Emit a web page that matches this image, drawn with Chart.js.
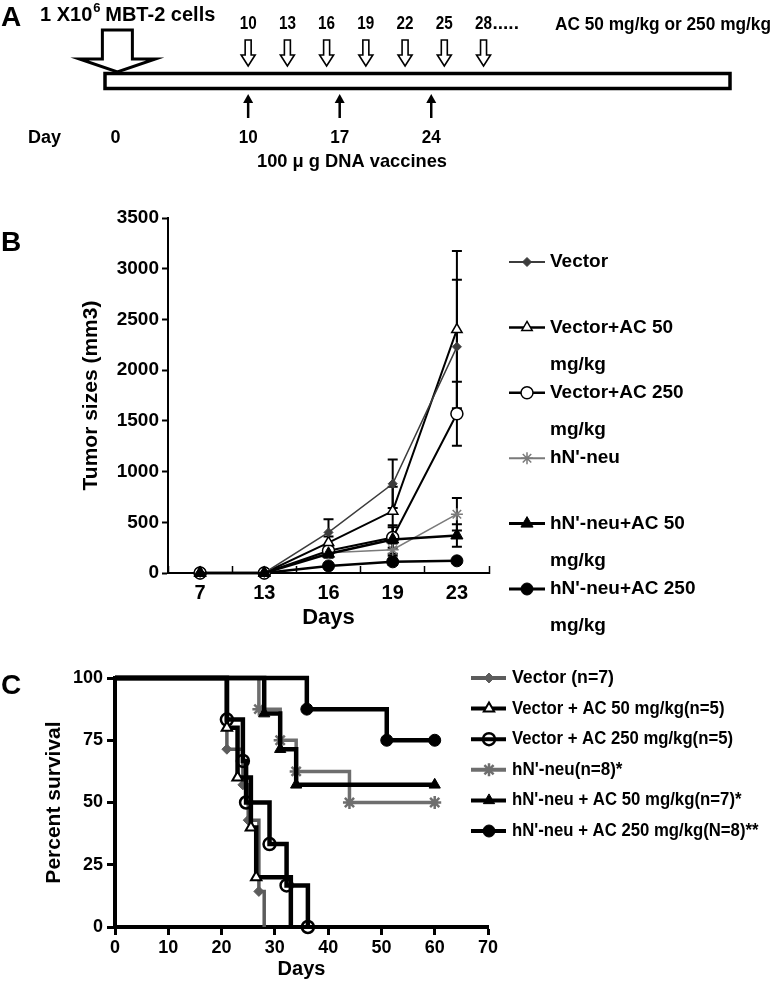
<!DOCTYPE html>
<html>
<head>
<meta charset="utf-8">
<script src="https://cdn.jsdelivr.net/npm/chart.js@4.4.1/dist/chart.umd.min.js"></script>
<style>
  html, body { margin: 0; padding: 0; background: #fff; }
  #wrap { position: relative; width: 774px; height: 981px; }
  canvas { position: absolute; left: 0; }
</style>
</head>
<body>
<div id="wrap">
  <canvas id="chartA" width="774" height="180" style="top:0"></canvas>
  <canvas id="chartB" width="774" height="465" style="top:180px"></canvas>
  <canvas id="chartC" width="774" height="336" style="top:645px"></canvas>
</div>
<script>
var FONT = '"Liberation Sans", Arial, sans-serif';

// ---- A: treatment schedule (days)
var tumorDay = 0;
var acDays = [10, 13, 16, 19, 22, 25, 28];
var acDayLabels = ['10', '13', '16', '19', '22', '25', '28.....'];
var vaccineDays = [10, 17, 24];

// ---- B: tumor sizes (mm3), mean and error
var tumorDays = ['7', '13', '16', '19', '23'];
var tumorNames = ['Vector', 'Vector+AC 50 mg/kg', 'Vector+AC 250 mg/kg',
                  "hN'-neu", "hN'-neu+AC 50 mg/kg", "hN'-neu+AC 250 mg/kg"];
var sizeVector       = [0, 0, 400, 880, 2230];
var sizeVectorAC50   = [0, 0, 300, 610, 2400];
var sizeVectorAC250  = [0, 0, 220, 350, 1570];
var sizeNeu          = [0, 0, 200, 230, 580];
var sizeNeuAC50      = [0, 0, 190, 330, 370];
var sizeNeuAC250     = [0, 0, 70, 110, 120];
var errVector        = [0, 0, 130, 240, 660];
var errVectorAC50    = [0, 0, 60, 240, 775];
var errVectorAC250   = [0, 0, 50, 100, 315];
var errNeu           = [0, 0, 40, 60, 160];
var errNeuAC50       = [0, 0, 40, 140, 110];
var errNeuAC250      = [0, 0, 20, 30, 20];

// ---- C: survival (Kaplan-Meier steps)
var survNames = ['Vector (n=7)', 'Vector + AC 50 mg/kg(n=5)', 'Vector + AC 250 mg/kg(n=5)',
                 "hN'-neu(n=8)*", "hN'-neu + AC 50 mg/kg(n=7)*", "hN'-neu + AC 250 mg/kg(N=8)**"];
var survVectorDays      = [0, 21, 24, 25, 27, 28];
var survVectorPct       = [100, 71.4, 57.1, 42.9, 14.3, 0];
var survVectorAC50Days  = [0, 21, 23, 25.5, 26.5, 33];
var survVectorAC50Pct   = [100, 80, 60, 40, 20, 0];
var survVectorAC250Days = [0, 21, 24, 24.6, 29, 32.2, 36.2];
var survVectorAC250Pct  = [100, 83.3, 66.7, 50, 33.3, 16.7, 0];
var survNeuDays         = [0, 27, 31, 34, 44, 60];
var survNeuPct          = [100, 87.5, 75, 62.5, 50, 50];
var survNeuAC50Days     = [0, 28, 31, 34, 60];
var survNeuAC50Pct      = [100, 85.7, 71.4, 57.1, 57.1];
var survNeuAC250Days    = [0, 36, 51, 60];
var survNeuAC250Pct     = [100, 87.5, 75, 75];

function pts(xs, ys) {
  return xs.map(function (d, i) { return { x: d, y: ys[i] }; });
}

function txt(ctx, s, x, y, size, weight, align, maxW) {
  ctx.font = weight + ' ' + size + 'px ' + FONT;
  ctx.textAlign = align || 'left';
  ctx.textBaseline = 'middle';
  ctx.fillStyle = '#000';
  if (maxW) ctx.fillText(s, x, y, maxW); else ctx.fillText(s, x, y);
}

function mark(ctx, style, x, y) {
  ctx.save();
  ctx.fillStyle = style.fill;
  ctx.strokeStyle = style.color;
  ctx.lineWidth = style.bw;
  Chart.helpers.drawPoint(ctx, { pointStyle: style.point, radius: style.radius, borderWidth: style.bw, rotation: 0 }, x, y);
  ctx.restore();
}

function plain(v) { return String(v); }

var baseOpts = {
  responsive: false,
  animation: false,
  events: [],
  plugins: { legend: { display: false }, tooltip: { enabled: false } }
};

// ================= A =================
var schedule = {
  id: 'schedule',
  afterDraw: function (chart) {
    var ctx = chart.ctx, a = chart.chartArea, x = chart.scales.x;
    ctx.save();
    txt(ctx, 'A', 1, 18, 28, 'bold');

    // timeline bar
    ctx.strokeStyle = '#000';
    ctx.lineWidth = 3.5;
    ctx.strokeRect(a.left + 2, 73.5, a.right - a.left - 4, 15);

    // tumor inoculation arrow
    var cx = x.getPixelForValue(tumorDay);
    ctx.beginPath();
    ctx.moveTo(cx - 15, 30); ctx.lineTo(cx + 15, 30); ctx.lineTo(cx + 15, 59);
    ctx.lineTo(cx + 38, 59); ctx.lineTo(cx, 72); ctx.lineTo(cx - 38, 59);
    ctx.lineTo(cx - 15, 59); ctx.closePath();
    ctx.fillStyle = '#fff'; ctx.fill();
    ctx.lineWidth = 3; ctx.lineJoin = 'miter'; ctx.stroke();
    txt(ctx, '1 X10', 40, 15, 20, 'bold');
    ctx.font = 'bold 20px ' + FONT;
    var w1 = ctx.measureText('1 X10').width;
    txt(ctx, '6', 40 + w1 + 1, 8, 13, 'bold');
    txt(ctx, 'MBT-2 cells', 40 + w1 + 13, 15, 20, 'bold');

    // AC doses
    acDays.forEach(function (d, i) {
      var px = x.getPixelForValue(d);
      ctx.beginPath();
      ctx.moveTo(px - 3, 40); ctx.lineTo(px + 3, 40); ctx.lineTo(px + 3, 55);
      ctx.lineTo(px + 7, 55); ctx.lineTo(px, 66); ctx.lineTo(px - 7, 55);
      ctx.lineTo(px - 3, 55); ctx.closePath();
      ctx.lineWidth = 1.6; ctx.stroke();
      var num = acDayLabels[i].match(/^\d+/)[0];
      var rest = acDayLabels[i].slice(num.length);
      txt(ctx, num, px, 24, 19, 'bold', 'center', 17);
      if (rest) txt(ctx, rest, px + 9, 24, 19, 'bold', 'left', 30);
    });
    txt(ctx, 'AC 50 mg/kg or 250 mg/kg', 771, 25, 19, 'bold', 'right', 216);

    // DNA vaccines
    vaccineDays.forEach(function (d) {
      var px = x.getPixelForValue(d);
      ctx.beginPath(); ctx.moveTo(px, 118); ctx.lineTo(px, 100);
      ctx.lineWidth = 2.5; ctx.stroke();
      ctx.beginPath(); ctx.moveTo(px - 5, 103); ctx.lineTo(px + 5, 103); ctx.lineTo(px, 94);
      ctx.closePath(); ctx.fillStyle = '#000'; ctx.fill();
      txt(ctx, String(d), px, 138, 18, 'bold', 'center', 19);
    });
    txt(ctx, 'Day', 28, 138, 18, 'bold', 'left', 34);
    txt(ctx, String(tumorDay), cx - 2, 138, 18, 'bold', 'center');
    txt(ctx, '100 \u03bc g DNA vaccines', 257, 162, 19, 'bold', 'left', 190);
    ctx.restore();
  }
};

new Chart(document.getElementById('chartA'), {
  type: 'scatter',
  data: { datasets: [] },
  options: Object.assign({}, baseOpts, {
    layout: { padding: { left: 103, right: 42, top: 0, bottom: 0 } },
    scales: {
      x: { type: 'linear', min: -1.1, max: 47, display: false },
      y: { min: 0, max: 1, display: false }
    }
  }),
  plugins: [schedule]
});

// ================= B =================
var stylesB = [
  { color: '#3c3c3c', width: 1.5, point: 'rectRot', radius: 4.5, fill: '#3c3c3c', bw: 1 },
  { color: '#000', width: 2, point: 'triangle', radius: 6, fill: '#fff', bw: 1.5 },
  { color: '#000', width: 2, point: 'circle', radius: 6, fill: '#fff', bw: 1.5 },
  { color: '#7a7a7a', width: 1.5, point: 'star', radius: 6, fill: '#7a7a7a', bw: 1.5 },
  { color: '#000', width: 2.5, point: 'triangle', radius: 7, fill: '#000', bw: 1 },
  { color: '#000', width: 2.5, point: 'circle', radius: 6, fill: '#000', bw: 1 }
];
var sizesB = [sizeVector, sizeVectorAC50, sizeVectorAC250, sizeNeu, sizeNeuAC50, sizeNeuAC250];
var errsB = [errVector, errVectorAC50, errVectorAC250, errNeu, errNeuAC50, errNeuAC250];

var errorBars = {
  id: 'errorBars',
  beforeDatasetsDraw: function (chart) {
    var ctx = chart.ctx, x = chart.scales.x, y = chart.scales.y;
    ctx.save();
    ctx.strokeStyle = '#000';
    ctx.lineWidth = 2;
    errsB.forEach(function (errs, i) {
      errs.forEach(function (e, j) {
        if (!e) return;
        var px = x.getPixelForValue(j);
        var t = y.getPixelForValue(sizesB[i][j] + e);
        var b = y.getPixelForValue(Math.max(0, sizesB[i][j] - e));
        ctx.beginPath();
        ctx.moveTo(px, t); ctx.lineTo(px, b);
        ctx.moveTo(px - 5, t); ctx.lineTo(px + 5, t);
        ctx.moveTo(px - 5, b); ctx.lineTo(px + 5, b);
        ctx.stroke();
      });
    });
    ctx.restore();
  }
};

var legendB = {
  id: 'legendB',
  afterDraw: function (chart) {
    var ctx = chart.ctx;
    ctx.save();
    txt(ctx, 'B', 1, 63, 28, 'bold');
    tumorNames.forEach(function (name, i) {
      var s = stylesB[i], y = 82 + i * 65.4;
      ctx.beginPath(); ctx.moveTo(509, y); ctx.lineTo(545, y);
      ctx.strokeStyle = s.color; ctx.lineWidth = s.width + 0.5; ctx.stroke();
      mark(ctx, s, 527, y);
      var parts = name.split(' mg/kg');
      txt(ctx, parts[0], 550, y, 19, 'bold');
      if (parts.length > 1) txt(ctx, 'mg/kg', 550, y + 37, 19, 'bold');
    });
    ctx.restore();
  }
};

new Chart(document.getElementById('chartB'), {
  type: 'line',
  data: {
    labels: tumorDays,
    datasets: tumorNames.map(function (name, i) {
      var s = stylesB[i];
      return {
        label: name, data: sizesB[i], order: i === 4 ? 0 : 1, clip: false,
        borderColor: s.color, borderWidth: s.width, tension: 0,
        pointStyle: s.point, pointRadius: s.radius, pointBackgroundColor: s.fill,
        pointBorderColor: s.color, pointBorderWidth: s.bw
      };
    })
  },
  options: Object.assign({}, baseOpts, {
    layout: { padding: { left: 66, right: 285, top: 38, bottom: 0 } },
    scales: {
      x: {
        type: 'category', offset: true,
        grid: { offset: true, drawOnChartArea: false, color: '#000', tickLength: -7, tickWidth: 1.5 },
        border: { color: '#000', width: 2 },
        ticks: { color: '#000', padding: 15, font: { family: FONT, size: 20, weight: 'bold' } },
        title: { display: true, text: 'Days', color: '#000', padding: { top: 0, bottom: 14 },
                 font: { family: FONT, size: 22, weight: 'bold' } },
        afterFit: function (s) { s.height = 72; }
      },
      y: {
        min: 0, max: 3500,
        grid: { drawOnChartArea: false, color: '#000', tickLength: 6, tickWidth: 2 },
        border: { color: '#000', width: 2 },
        ticks: { stepSize: 500, callback: plain, color: '#000', padding: 3,
                 font: { family: FONT, size: 19, weight: 'bold' } },
        title: { display: true, text: 'Tumor sizes (mm3)', color: '#000', padding: { top: 13, bottom: 0 },
                 font: { family: FONT, size: 21, weight: 'bold' } },
        afterFit: function (s) { s.width = 102; }
      }
    }
  }),
  plugins: [errorBars, legendB]
});

// ================= C =================
var stylesC = [
  { color: '#5c5c5c', width: 3.5, point: 'rectRot', radius: 5, fill: '#5c5c5c', bw: 1, noEnd: true },
  { color: '#000', width: 4.5, point: 'triangle', radius: 6, fill: '#fff', bw: 2, noEnd: true },
  { color: '#000', width: 4.5, point: 'circle', radius: 6, fill: 'rgba(255,255,255,0)', bw: 2.5 },
  { color: '#6e6e6e', width: 3.5, point: 'star', radius: 6.5, fill: '#6e6e6e', bw: 2.5 },
  { color: '#000', width: 4.5, point: 'triangle', radius: 6.5, fill: '#000', bw: 1 },
  { color: '#000', width: 4.5, point: 'circle', radius: 6, fill: '#000', bw: 1 }
];
var survC = [
  pts(survVectorDays, survVectorPct),
  pts(survVectorAC50Days, survVectorAC50Pct),
  pts(survVectorAC250Days, survVectorAC250Pct),
  pts(survNeuDays, survNeuPct),
  pts(survNeuAC50Days, survNeuAC50Pct),
  pts(survNeuAC250Days, survNeuAC250Pct)
];

var legendC = {
  id: 'legendC',
  afterDraw: function (chart) {
    var ctx = chart.ctx;
    ctx.save();
    txt(ctx, 'C', 1, 41, 28, 'bold');
    survNames.forEach(function (name, i) {
      var s = stylesC[i], y = 33 + i * 30.6;
      ctx.beginPath(); ctx.moveTo(471, y); ctx.lineTo(506, y);
      ctx.strokeStyle = s.color; ctx.lineWidth = 4; ctx.stroke();
      mark(ctx, s, 489, y);
      txt(ctx, name, 512, y, 18, '600', 'left', name.length * 8.5);
    });
    ctx.restore();
  }
};

new Chart(document.getElementById('chartC'), {
  type: 'line',
  data: {
    datasets: survNames.map(function (name, i) {
      var s = stylesC[i];
      return {
        label: name, data: survC[i], stepped: 'before', clip: false,
        order: (i === 0 || i === 3) ? 2 : 1,
        borderColor: s.color, borderWidth: s.width,
        pointStyle: s.point, pointBackgroundColor: s.fill, pointBorderColor: s.color,
        pointBorderWidth: s.bw,
        pointRadius: function (c) {
          var last = c.dataset.data.length - 1;
          return (c.dataIndex === 0 || (s.noEnd && c.dataIndex === last)) ? 0 : s.radius;
        }
      };
    })
  },
  options: Object.assign({}, baseOpts, {
    layout: { padding: { left: 30, right: 286, top: 33, bottom: 0 } },
    scales: {
      x: {
        type: 'linear', min: 0, max: 70,
        grid: { drawOnChartArea: false, color: '#000', tickLength: 8, tickWidth: 3 },
        border: { color: '#000', width: 4 },
        ticks: { stepSize: 10, color: '#000', padding: 2, font: { family: FONT, size: 18, weight: 'bold' } },
        title: { display: true, text: 'Days', color: '#000', padding: { top: 0, bottom: 0 },
                 font: { family: FONT, size: 20, weight: 'bold' } },
        afterFit: function (s) { s.height = 54; }
      },
      y: {
        min: 0, max: 100,
        grid: { drawOnChartArea: false, color: '#000', tickLength: 8, tickWidth: 3 },
        border: { color: '#000', width: 4 },
        ticks: { stepSize: 25, color: '#000', padding: 4, font: { family: FONT, size: 18, weight: 'bold' } },
        title: { display: true, text: 'Percent survival', color: '#000', padding: { top: 12, bottom: 0 },
                 font: { family: FONT, size: 21, weight: 'bold' } },
        afterFit: function (s) { s.width = 85; }
      }
    }
  }),
  plugins: [legendC]
});
</script>
</body>
</html>
